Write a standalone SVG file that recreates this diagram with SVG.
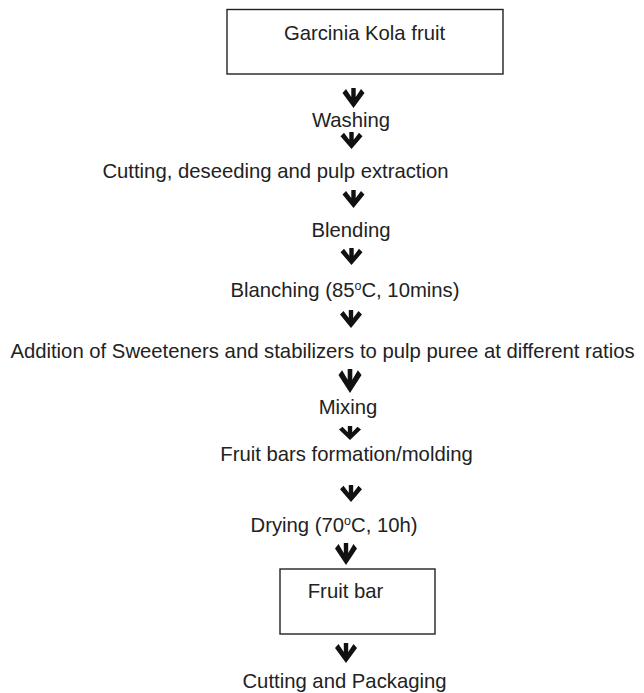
<svg xmlns="http://www.w3.org/2000/svg" xmlns:xlink="http://www.w3.org/1999/xlink" width="644" height="693" viewBox="0 0 644 693">
  <style>
    .t { font-family: "Liberation Sans", "Open Sans", sans-serif; font-size: 20.3px; fill: #222; text-anchor: middle; }
    .sup { font-size: 12.5px; }
    .box { fill: #fff; stroke: #222; stroke-width: 1.4; }
    .arr { fill: #111; }
  </style>
  <defs>
    <path id="arrow" d="M0,20 L-11,5 L-7.5,1 L-2.2,9 L-2.2,0 L2.2,0 L2.2,9 L7.5,1 L11,5 Z"/>
  </defs>
  <rect width="644" height="693" fill="#fff"/>

  <g id="connectors" class="arr">
    <use xlink:href="#arrow" transform="translate(353.5,88) scale(1,1)"/>
    <use xlink:href="#arrow" transform="translate(351.5,132) scale(1,0.85)"/>
    <use xlink:href="#arrow" transform="translate(353.5,190) scale(1,0.9)"/>
    <use xlink:href="#arrow" transform="translate(351.5,248) scale(1,0.85)"/>
    <use xlink:href="#arrow" transform="translate(351,310) scale(1,0.9)"/>
    <use xlink:href="#arrow" transform="translate(350,369) scale(1.05,1.2)"/>
    <use xlink:href="#arrow" transform="translate(350,426) scale(1,0.7)"/>
    <use xlink:href="#arrow" transform="translate(351,485) scale(1,0.85)"/>
    <use xlink:href="#arrow" transform="translate(346,543) scale(1,1.1)"/>
    <use xlink:href="#arrow" transform="translate(346,643) scale(1,1)"/>
  </g>

  <g id="node-garcinia">
    <rect class="box" x="227" y="9.5" width="276" height="64.5"/>
    <text class="t" x="364.5" y="40">Garcinia Kola fruit</text>
  </g>
  <g id="node-washing">
    <text class="t" x="351" y="127">Washing</text>
  </g>
  <g id="node-cutting">
    <text class="t" x="275.5" y="178">Cutting, deseeding and pulp extraction</text>
  </g>
  <g id="node-blending">
    <text class="t" x="351" y="237">Blending</text>
  </g>
  <g id="node-blanching">
    <text class="t" x="345" y="297">Blanching (85<tspan class="sup" dy="-7">o</tspan><tspan dy="7">C, 10mins)</tspan></text>
  </g>
  <g id="node-addition">
    <text class="t" x="322.5" y="358">Addition of Sweeteners and stabilizers to pulp puree at different ratios</text>
  </g>
  <g id="node-mixing">
    <text class="t" x="348" y="414">Mixing</text>
  </g>
  <g id="node-formation">
    <text class="t" x="346.5" y="461">Fruit bars formation/molding</text>
  </g>
  <g id="node-drying">
    <text class="t" x="334" y="532">Drying (70<tspan class="sup" dy="-7">o</tspan><tspan dy="7">C, 10h)</tspan></text>
  </g>
  <g id="node-fruitbar">
    <rect class="box" x="280" y="569" width="155" height="65"/>
    <text class="t" x="345.5" y="598">Fruit bar</text>
  </g>
  <g id="node-packaging">
    <text class="t" x="344.5" y="688">Cutting and Packaging</text>
  </g>
</svg>
